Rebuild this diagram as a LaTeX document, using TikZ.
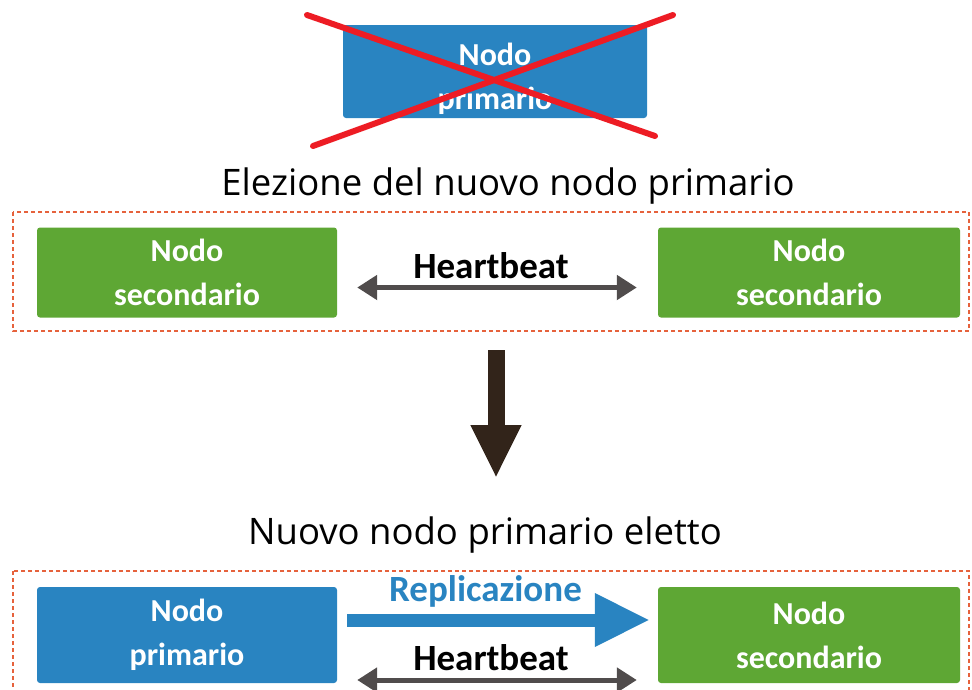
\documentclass[tikz,border=0pt]{standalone}
\usepackage{fontspec}
\setmainfont{Open Sans}
\newfontfamily\calfont{Carlito}
\usepackage{tikz}
\usetikzlibrary{arrows.meta}
\usetikzlibrary{positioning}

\definecolor{bluenodo}{RGB}{41,132,193}
\definecolor{verdenodo}{RGB}{94,167,52}
\definecolor{cornicecol}{RGB}{230,98,60}
\definecolor{crocerossa}{RGB}{237,28,36}
\definecolor{beatgrigio}{RGB}{80,76,76}
\definecolor{giumarrone}{RGB}{50,36,26}

\begin{document}
\begin{tikzpicture}[x=1pt, y=-1pt,
  nodo/.style={rounded corners=3pt, minimum width=300pt, minimum height=90pt,
    text=white, align=center, font=\calfont\bfseries\fontsize{32}{44}\selectfont},
  primario/.style={nodo, fill=bluenodo},
  secondario/.style={nodo, fill=verdenodo},
  cornice/.style={draw=cornicecol, line width=2.5pt, dash pattern=on 4pt off 3pt},
  titolo/.style={font=\fontsize{36.5}{40}\selectfont},
  etichetta/.style={font=\calfont\bfseries\fontsize{37}{40}\selectfont},
  beat/.style={draw=beatgrigio, line width=5pt,
    {Triangle[width=24pt,length=20pt]}-{Triangle[width=24pt,length=20pt]}},
  repl/.style={draw=bluenodo, line width=13pt, -{Triangle[width=50pt,length=55pt]}},
  giu/.style={draw=giumarrone, line width=17pt, -{Triangle[width=47pt,length=53pt]}},
  croce/.style={draw=crocerossa, line width=6pt, line cap=round}]

\useasboundingbox (0,0) rectangle (972,689);
\clip (0,0) rectangle (972,689);

%vecchio primario
\node[primario, minimum width=304pt, minimum height=93pt] (vecchio) at (495,71.5) {};
\node[text=white, align=center, font=\calfont\bfseries\fontsize{32}{44}\selectfont] (vecchiotesto) at ([yshift=-7pt]vecchio.center) {Nodo\\primario};
\draw[croce] (307,15) -- (655,136);
\draw[croce] (673,15) -- (313,146);

%elezione
\node[titolo] (titolo1) at (508,186) {Elezione del nuovo nodo primario};
\draw[cornice] (13,212) rectangle (969,331);
\node[secondario] (sx1) at (187,272.5) {Nodo\\secondario};
\node[secondario, minimum width=302pt] (dx1) at (809,272.5) {Nodo\\secondario};
\draw[beat] ([xshift=20pt,yshift=-15pt]sx1.east) -- node[etichetta, above=3pt, xshift=-6pt] {Heartbeat} ([xshift=-21pt,yshift=-15pt]dx1.west);

\coordinate (giu1) at (496,350);
\coordinate (giu2) at (496,478);
\draw[giu] (giu1) -- (giu2);

%nuovo primario
\node[titolo] (titolo2) at (485,535) {Nuovo nodo primario eletto};
\draw[cornice] (13,571) rectangle (969,720);
\node[primario, minimum height=96pt] (sx2) at (187,635) {Nodo\\primario};
\node[secondario, minimum width=302pt, minimum height=96pt] (dx2) at (809,635) {Nodo\\secondario};
\draw[repl] ([xshift=10pt,yshift=15pt]sx2.east) -- node[etichetta, text=bluenodo, above=3pt, xshift=-13pt] {Replicazione} ([xshift=-8pt,yshift=15pt]dx2.west);
\draw[beat] ([xshift=20pt,yshift=-45pt]sx2.east) -- node[etichetta, above=3pt, xshift=-6pt] {Heartbeat} ([xshift=-21pt,yshift=-45pt]dx2.west);
\end{tikzpicture}
\end{document}
